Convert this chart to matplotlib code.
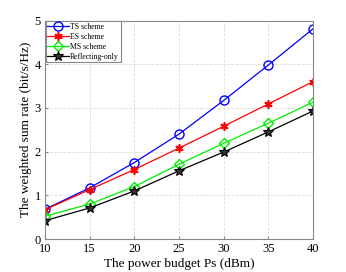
import matplotlib
matplotlib.use("Agg")
import matplotlib.pyplot as plt

x = [10, 15, 20, 25, 30, 35, 40]
ts = [0.68, 1.17, 1.75, 2.40, 3.17, 3.98, 4.81]
es = [0.67, 1.13, 1.59, 2.08, 2.58, 3.09, 3.60]
ms = [0.52, 0.80, 1.20, 1.71, 2.19, 2.65, 3.13]
ro = [0.42, 0.71, 1.10, 1.56, 1.99, 2.45, 2.93]
labels = ["TS scheme", "ES scheme", "MS scheme", "Reflecting-only"]

plt.rcParams['font.family'] = ['Liberation Serif', 'DejaVu Serif']
fig = plt.figure(figsize=(3.46, 2.72), dpi=100)
ax = fig.add_axes([45/346, 1-239/272, (313-45)/346, (239-20.5)/272])

ax.plot(x, ts, color='blue', marker='o', ms=6.5, mfc='none', mew=1.0, lw=0.9, label=labels[0])
ax.plot(x, es, color='red', marker=(6, 2, 0), ms=6, mew=1.2, lw=0.9, label=labels[1])
ax.plot(x, ms, color='#00ee00', marker='D', ms=5, mfc='none', mew=1.0, lw=0.9, label=labels[2])
ax.plot(x, ro, color='black', marker='*', ms=7.5, mfc='#333333', mew=0.8, lw=0.9, label=labels[3])

ax.set_xlim(10, 40)
ax.set_ylim(0, 5)
ax.set_xticks(x)
ax.set_yticks([0, 1, 2, 3, 4, 5])
ax.grid(True, linestyle='--', color='#dddddd', lw=0.6)
for s in ax.spines.values():
    s.set_color('#888888')
    s.set_linewidth(0.8)
ax.tick_params(direction='in', labelsize=9, length=2, color='#888888', pad=3)
ax.set_xlabel('The power budget Ps (dBm)', fontsize=9.5, labelpad=2)
ax.set_ylabel('The weighted sum rate (bit/s/Hz)', fontsize=9.5, labelpad=1.5)
leg = ax.legend(loc='upper left', fontsize=5.6, fancybox=False, framealpha=1,
                edgecolor='#888888', borderpad=0.2, labelspacing=0.25,
                handlelength=2.8, handletextpad=0.15, borderaxespad=0.1)
leg.get_frame().set_linewidth(0.8)
fig.savefig('out.png', dpi=100)
